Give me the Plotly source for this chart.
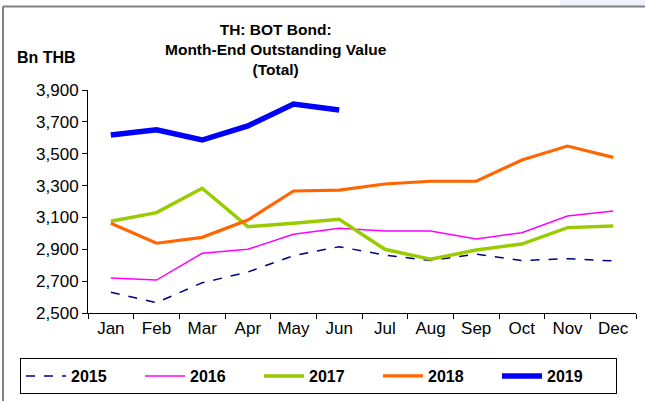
import plotly.graph_objects as go

months = ["Jan", "Feb", "Mar", "Apr", "May", "Jun", "Jul", "Aug", "Sep", "Oct", "Nov", "Dec"]
v2015 = [2630, 2565, 2690, 2757, 2860, 2916, 2864, 2829, 2870, 2829, 2841, 2827]
v2016 = [2720, 2707, 2875, 2900, 2994, 3032, 3015, 3015, 2965, 3004, 3109, 3140]
v2017 = [3076, 3130, 3283, 3042, 3063, 3088, 2900, 2837, 2896, 2933, 3036, 3046]
v2018 = [3063, 2938, 2975, 3084, 3266, 3272, 3310, 3327, 3327, 3460, 3548, 3477]
v2019 = [3618, 3650, 3586, 3674, 3812, 3774]

FONT = "Arial, Liberation Sans, sans-serif"

series = [
    ("2015", v2015, dict(color="#000080", width=1.5, dash="dash")),
    ("2016", v2016, dict(color="#FF00FF", width=1.5)),
    ("2017", v2017, dict(color="#99CC00", width=3.5)),
    ("2018", v2018, dict(color="#FF6600", width=3.2)),
    ("2019", v2019, dict(color="#0000FF", width=5.5)),
]

fig = go.Figure()
for name, vals, line in series:
    fig.add_trace(go.Scatter(x=months[:len(vals)], y=vals, mode="lines", name=name, line=line))

L, R, T, B = 88, 9, 90, 88
W, H = 645, 401
pw, ph = W - L - R, H - T - B

def px(x):
    return (x - L) / pw

def py(y):
    return (H - B - y) / ph

fig.update_layout(
    width=W, height=H,
    margin=dict(l=L, r=R, t=T, b=B, autoexpand=False),
    paper_bgcolor="white", plot_bgcolor="white",
    font=dict(family=FONT, size=14, color="black"),
    showlegend=True,
    legend=dict(
        orientation="h",
        x=px(20), y=py(358), xanchor="left", yanchor="top",
        bordercolor="black", borderwidth=1,
        font=dict(family=FONT, size=16, color="black", weight="bold"),
        entrywidth=64, entrywidthmode="pixels",
        itemwidth=40,
        bgcolor="white",
    ),
    xaxis=dict(
        type="category", tickson="boundaries", ticks="outside", ticklen=5,
        tickcolor="black", showline=True, linecolor="black", linewidth=1,
        showgrid=False, zeroline=False,
        tickfont=dict(family=FONT, size=17, color="black"),
        range=[-0.5, 11.5],
    ),
    yaxis=dict(
        range=[2500, 3900], dtick=200, tick0=2500, tickformat=",",
        ticks="outside", ticklen=5, tickcolor="black",
        showline=True, linecolor="black", linewidth=1,
        showgrid=False, zeroline=False,
        tickfont=dict(family=FONT, size=17, color="black"),
    ),
    annotations=[
        dict(text="<b>Bn THB</b>", xref="paper", yref="paper",
             x=px(15), y=py(57), xanchor="left", yanchor="middle",
             showarrow=False, font=dict(family=FONT, size=16, color="black")),
        dict(text="<b>TH: BOT Bond:<br>Month-End Outstanding Value<br>(Total)</b>",
             xref="paper", yref="paper", x=px(276), y=py(50),
             xanchor="center", yanchor="middle", align="center",
             showarrow=False, font=dict(family=FONT, size=15.5, color="black")),
    ],
    shapes=[
        dict(type="rect", xref="paper", yref="paper", x0=px(560), x1=px(645),
             y0=py(0), y1=py(6), fillcolor="#EEF2FA", line=dict(width=0), layer="below"),
        dict(type="line", xref="paper", yref="paper", x0=px(3), x1=px(645),
             y0=py(6.5), y1=py(6.5), line=dict(color="#808080", width=2)),
        dict(type="line", xref="paper", yref="paper", x0=px(3), x1=px(3),
             y0=py(6.5), y1=py(401), line=dict(color="#808080", width=2)),
    ],
)

fig.write_html(
    "out.html",
    config={"displayModeBar": False},
    post_script="document.body.style.margin='0';document.body.style.padding='0';",
)
